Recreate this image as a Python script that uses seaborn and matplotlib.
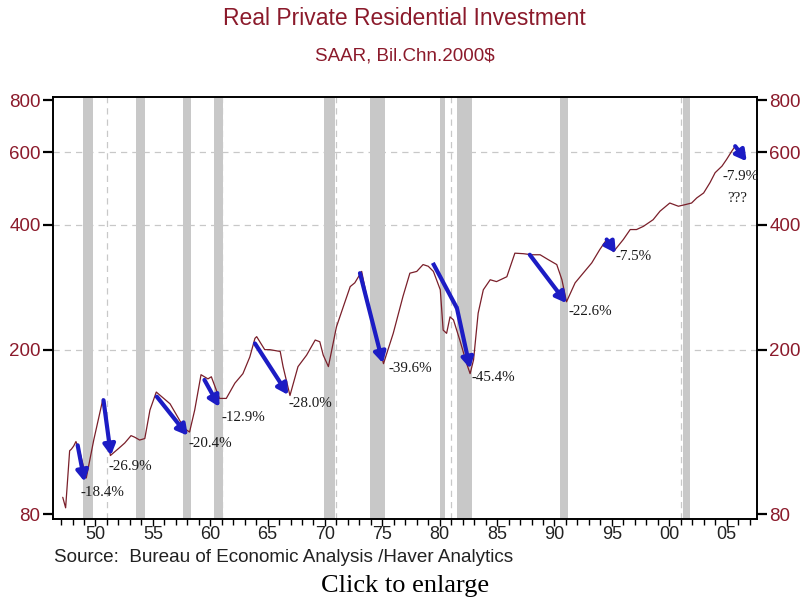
import numpy as np
import pandas as pd
import seaborn as sns
import matplotlib
matplotlib.use("Agg")
import matplotlib.pyplot as plt
from matplotlib.ticker import NullLocator, FixedLocator, NullFormatter

# ---- data ----
years = [1947.15, 1947.4, 1947.75, 1947.9, 1948.1, 1948.3, 1948.65, 1949.2, 1949.85, 1950.65,
         1951.3, 1952.1, 1952.55, 1953.1, 1953.4, 1953.85, 1954.3, 1954.75, 1955.3, 1956.5,
         1957.75, 1958.2, 1958.65, 1959.2, 1959.8, 1960.1, 1960.8, 1961.4, 1962.15, 1962.85,
         1963.45, 1963.9, 1964.05, 1964.75, 1965.2, 1966.1, 1966.35, 1966.95, 1967.65, 1968.4,
         1969.15, 1969.55, 1969.85, 1970.3, 1971.0, 1971.6, 1972.2, 1972.6, 1973.2, 1973.75,
         1974.2, 1974.8, 1975.1, 1975.95, 1976.8, 1977.4, 1978.0, 1978.55, 1979.0, 1979.45,
         1980.05, 1980.3, 1980.6, 1980.9, 1981.2, 1981.75, 1982.35, 1982.65, 1982.95, 1983.35,
         1983.8, 1984.4, 1984.95, 1985.85, 1986.55, 1987.3, 1988.0, 1988.75, 1989.45, 1990.2,
         1990.65, 1991.05, 1991.8, 1992.5, 1993.25, 1993.95, 1994.55, 1995.15, 1996.0, 1996.6,
         1997.15, 1997.75, 1998.6, 1999.2, 2000.05, 2000.8, 2001.4, 2001.95, 2002.4, 2003.0,
         2003.55, 2004.0, 2004.6, 2005.0, 2005.45, 2005.75, 2006.2]
investment = [88, 83, 114, 115, 117, 120, 113, 98, 121, 152,
              111, 116, 119, 124, 123, 121, 122, 143, 158, 148,
              129, 126.5, 143, 174, 170, 172, 152.5, 152.5, 166, 175,
              192, 213, 215, 200, 200, 198, 182, 155, 182, 194,
              211, 209, 194, 182, 227, 254, 284, 290, 309, 259,
              232, 200, 185, 219, 269, 306, 309, 321, 318, 309,
              279, 223, 219, 240, 236, 211, 185, 175, 189, 245,
              279, 295, 292, 300, 342, 341, 339, 339, 330, 321,
              295, 261, 290, 306, 324, 349, 369, 345, 369, 390,
              390, 397, 412, 432, 452, 444, 448, 452, 465, 478,
              506, 535, 555, 576, 603, 620, 603]

recession_start = [1948.9, 1953.5, 1957.6, 1960.3, 1969.9, 1973.9, 1980.0, 1981.5, 1990.5, 2001.2]
recession_end = [1949.8, 1954.35, 1958.3, 1961.1, 1970.85, 1975.2, 1980.5, 1982.85, 1991.2, 2001.85]

drop_from_year = [1948.45, 1950.7, 1955.35, 1959.5, 1963.9, 1973.05, 1979.4, 1987.85, 1994.55, 2005.75]
drop_from_value = [117.5, 151, 154, 169, 207, 306, 324, 339, 369, 620]
drop_to_year = [1949.05, 1951.35, 1958.05, 1960.8, 1966.8, 1975.05, 1982.65, 1991.05, 1995.35, 2006.75]
drop_to_value = [96, 111, 124, 145.5, 155.5, 185.5, 180, 259, 342, 570]
drop_kink_year = [None, None, None, None, None, None, 1981.5, None, None, None]
drop_kink_value = [None, None, None, None, None, None, 252, None, None, None]
drop_labels = ['-18.4%', '-26.9%', '-20.4%', '-12.9%', '-28.0%', '-39.6%', '-45.4%', '-22.6%', '-7.5%', '-7.9%']
drop_label_year = [1950.65, 1953.0, 1960.0, 1962.85, 1968.7, 1977.4, 1984.65, 1993.1, 1996.85, 2006.2]
drop_label_value = [90.5, 104.5, 118.5, 137.5, 148.5, 180.5, 171, 247, 335, 525]

y_ticks = [80, 200, 400, 600, 800]
x_major = list(range(1950, 2006, 5))
x_labels = ['50', '55', '60', '65', '70', '75', '80', '85', '90', '95', '00', '05']
grid_years = [1951, 1961, 1971, 1981, 1991, 2001]

# ---- style ----
sns.set_theme(style="white")
plt.rcParams['font.family'] = ['Liberation Sans', 'DejaVu Sans']

RED = '#8b1a2b'
LINE = '#7a1f2a'
BLUE = '#1c1cc4'

fig = plt.figure(figsize=(8.0, 6.01), dpi=100)
ax = fig.add_axes([53 / 800, 1 - 519 / 601, (757 - 53) / 800, (519 - 97) / 601])

df = pd.DataFrame({'year': years, 'value': investment})

for s, e in zip(recession_start, recession_end):
    ax.axvspan(s, e, color='#c8c8c8', lw=0, zorder=0.5)

for g in grid_years:
    ax.axvline(g, color='#c8c8c8', lw=0.9, ls=(0, (5, 4)), zorder=0.4)
for g in [200, 400, 600]:
    ax.axhline(g, color='#c8c8c8', lw=0.9, ls=(0, (5, 4)), zorder=0.4)

sns.lineplot(data=df, x='year', y='value', ax=ax, color=LINE, lw=0.9, zorder=3)

ax.set_yscale('log')
ax.set_ylim(78, 815)
ax.set_xlim(1946.3, 2007.65)

for i in range(len(drop_labels)):
    x0, y0 = drop_from_year[i], drop_from_value[i]
    if drop_kink_year[i] is not None:
        ax.plot([x0, drop_kink_year[i]], [y0, drop_kink_value[i]], color=BLUE, lw=3.0,
                solid_capstyle='butt', zorder=4)
        x0, y0 = drop_kink_year[i], drop_kink_value[i]
    ax.annotate('', xy=(drop_to_year[i], drop_to_value[i]), xytext=(x0, y0),
                arrowprops=dict(arrowstyle='-|>,head_length=0.45,head_width=0.25', color=BLUE,
                                lw=3.0, shrinkA=0, shrinkB=0, mutation_scale=14), zorder=4)
    ax.text(drop_label_year[i], drop_label_value[i], drop_labels[i], ha='center', va='center',
            fontsize=10.8, family=['Liberation Serif'], color='#1a1a1a', zorder=5)

ax.text(2005.92, 463, '???', ha='center', va='center', fontsize=10.8,
        family=['Liberation Serif'], color='#1a1a1a', zorder=5)

ax.yaxis.set_major_locator(FixedLocator(y_ticks))
ax.yaxis.set_minor_locator(NullLocator())
ax.yaxis.set_minor_formatter(NullFormatter())
ax.set_yticklabels([str(v) for v in y_ticks])
ax.set_xticks(x_major)
ax.set_xticklabels(x_labels)
ax.set_xticks(list(range(1947, 2008)), minor=True)
ax.set_xlabel('')
ax.set_ylabel('')

ax.tick_params(axis='y', which='major', left=True, right=True, labelleft=True, labelright=True,
               direction='out', length=7, width=1.6, labelsize=13.5, labelcolor=RED, color='black', pad=2)
ax.tick_params(axis='x', which='major', bottom=True, direction='out', length=5, width=1.0,
               labelsize=13, labelcolor='#222222', color='black', pad=0)
ax.tick_params(axis='x', which='minor', bottom=True, direction='out', length=4, width=1.0, color='black')

for sp in ax.spines.values():
    sp.set_visible(True)
    sp.set_color('black')
    sp.set_linewidth(1.4)

fig.text(0.506, 0.970, 'Real Private Residential Investment', ha='center', va='center',
         fontsize=16.5, color=RED)
fig.text(0.506, 0.907, 'SAAR, Bil.Chn.2000$', ha='center', va='center', fontsize=13.5, color=RED)
fig.text(0.067, 0.0716, 'Source:  Bureau of Economic Analysis /Haver Analytics', ha='left',
         va='center', fontsize=13.6, color='#222222')
fig.text(0.506, 0.025, 'Click to enlarge', ha='center', va='center', fontsize=19,
         family=['Liberation Serif'], color='black')

fig.savefig('out.png', dpi=100, facecolor='white')
